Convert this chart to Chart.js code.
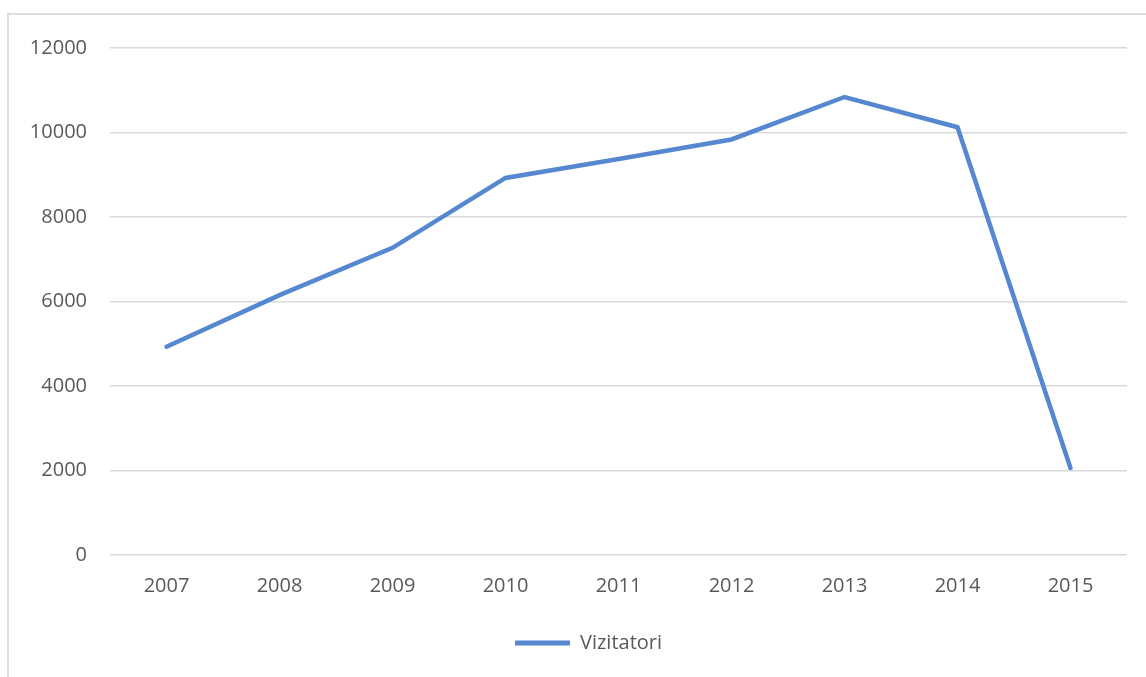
<!DOCTYPE html>
<html>
<head>
<meta charset="utf-8">
<script src="https://cdn.jsdelivr.net/npm/chart.js@4.4.1/dist/chart.umd.min.js"></script>
<style>
  html, body { margin: 0; padding: 0; background: #fff; }
  body { width: 1146px; height: 677px; position: relative; overflow: hidden; }
  #frame { position: absolute; left: 7px; top: 13px; width: 1160px; height: 700px; border: 2px solid #dedede; box-sizing: border-box; }
  #wrap { position: absolute; left: 0; top: 0; width: 1146px; height: 677px; }
</style>
</head>
<body>
<div id="frame"></div>
<div id="wrap"><canvas id="c" width="1146" height="677"></canvas></div>
<script>
const categories = ['2007', '2008', '2009', '2010', '2011', '2012', '2013', '2014', '2015'];
const seriesName = 'Vizitatori';
const visitors = [4930, 6150, 7270, 8925, 9375, 9835, 10840, 10125, 2060];
const yTicks = [0, 2000, 4000, 6000, 8000, 10000, 12000];

const TEXT = '#595959';
const FONT = { family: "'Open Sans', sans-serif", size: 20 };
const LINE = '#5687d1';

const shiftLegend = {
  id: 'shiftLegend',
  afterLayout(chart) {
    if (chart.legend) { chart.legend.left += 50; }
  }
};

new Chart(document.getElementById('c'), {
  type: 'line',
  data: {
    labels: categories,
    datasets: [{
      label: seriesName,
      data: visitors,
      borderColor: LINE,
      backgroundColor: LINE,
      borderWidth: 4.5,
      pointRadius: 0,
      pointHoverRadius: 0,
      tension: 0,
      borderCapStyle: 'round',
      borderJoinStyle: 'miter'
    }]
  },
  plugins: [shiftLegend],
  options: {
    responsive: false,
    animation: false,
    devicePixelRatio: 1,
    layout: { padding: { left: 0, right: 19, top: 48, bottom: 14 } },
    plugins: {
      tooltip: { enabled: false },
      legend: {
        position: 'bottom',
        labels: {
          color: TEXT,
          font: FONT,
          boxWidth: 55,
          boxHeight: 5,
          padding: 10,
          generateLabels(chart) {
            return chart.data.datasets.map((ds, i) => ({
              text: ds.label,
              fillStyle: ds.borderColor,
              strokeStyle: ds.borderColor,
              lineWidth: 0,
              fontColor: TEXT,
              datasetIndex: i,
              hidden: false
            }));
          }
        }
      }
    },
    scales: {
      x: {
        offset: true,
        afterFit(scale) { scale.height += 6; },
        grid: { display: false, drawTicks: false },
        border: { display: false },
        ticks: { color: TEXT, font: FONT, padding: 19, maxRotation: 0 }
      },
      y: {
        min: 0,
        max: 12000,
        afterBuildTicks(scale) { scale.ticks = yTicks.map(v => ({ value: v })); },
        afterFit(scale) { scale.width = 110; },
        grid: { color: '#d9d9d9', lineWidth: 1.5, drawTicks: false },
        border: { display: false },
        ticks: { color: TEXT, font: FONT, padding: 23, callback: v => String(v) }
      }
    }
  }
});
</script>
</body>
</html>
